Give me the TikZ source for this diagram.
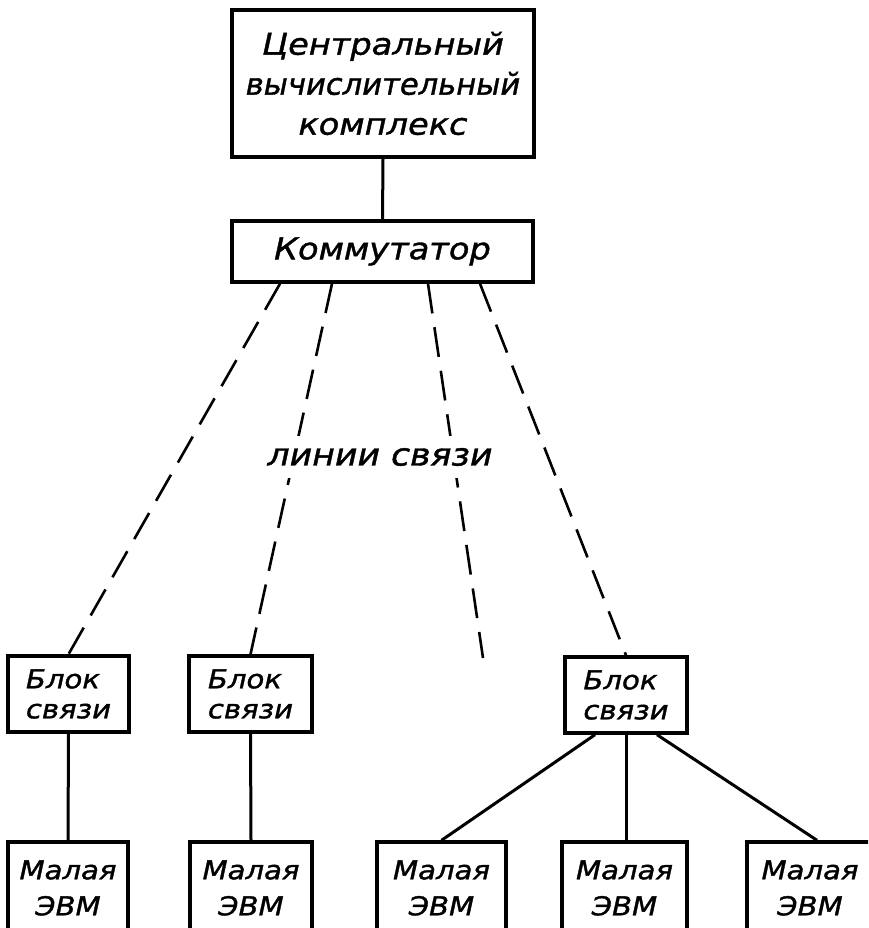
\documentclass[tikz,border=0pt]{standalone}
\usepackage{fontspec}
\newfontfamily\hand{DejaVu Sans}[FakeStretch=1.12, FakeBold=1.3]
\usetikzlibrary{calc}
\begin{document}
\begin{tikzpicture}[x=1pt,y=-1pt,
  box/.style={draw, line width=3.4pt, inner sep=0pt},
  bigtxt/.style={font=\hand\itshape\fontsize{30}{40}\selectfont},
  smalltxt/.style={font=\hand\itshape\fontsize{26}{30}\selectfont},
  evmtxt/.style={font=\hand\itshape\fontsize{26}{36}\selectfont},
  solidline/.style={line width=3pt},
  dashline/.style={line width=2.6pt, dash pattern=on 30pt off 14pt}]
\useasboundingbox (0,0) rectangle (868,928);
\clip (0,0) rectangle (868,928);

% top boxes
\node[box, bigtxt, align=center, minimum width=302pt, minimum height=147pt] (cvk) at (383,83.5)
  {Центральный\\\scalebox{0.91}[1]{вычислительный}\\комплекс};
\node[box, bigtxt, minimum width=301pt, minimum height=61pt] (kom) at (382.5,251.5) {Коммутатор};

% communication blocks
\node[box, smalltxt, align=left, minimum width=121pt, minimum height=76pt] (b1) at (68.5,694) {Блок\\связи};
\node[box, smalltxt, align=left, minimum width=123pt, minimum height=76pt] (b2) at (250.5,694) {Блок\\связи};
\node[box, smalltxt, align=left, minimum width=122pt, minimum height=76pt] (b3) at (626,695) {Блок\\связи};

% small computers
\node[box, evmtxt, align=center, minimum width=120pt, minimum height=92pt] (m1) at (68,888) {Малая\\ЭВМ};
\node[box, evmtxt, align=center, minimum width=122pt, minimum height=92pt] (m2) at (251,888) {Малая\\ЭВМ};
\node[box, evmtxt, align=center, minimum width=129pt, minimum height=92pt] (m3) at (441.5,888) {Малая\\ЭВМ};
\node[box, evmtxt, align=center, minimum width=125pt, minimum height=92pt] (m4) at (624.5,888) {Малая\\ЭВМ};
\node[box, evmtxt, align=center, minimum width=126pt, minimum height=92pt] (m5) at (810,888) {Малая\\ЭВМ};

% solid connectors
\draw[solidline] (cvk.south) -- (kom.north);
\draw[solidline] (b1.south) -- (m1.north);
\draw[solidline] (b2.south) -- (m2.north);
\draw[solidline] ($(b3.south)+(-31,0)$) -- (m3.north);
\draw[solidline] (b3.south) -- (b3.south |- m4.north);
\draw[solidline] ($(b3.south)+(31,0)$) -- ($(m5.north)+(7,0)$);

% dashed communication lines
\coordinate (free) at (483,658);
\draw[dashline] ($(kom.south)+(-102.5,0)$) -- (b1.north);
\draw[dashline] ($(kom.south)+(-50.5,0)$) -- (b2.north);
\draw[dashline] ($(kom.south)+(45.5,0)$) -- (free);
\draw[dashline] ($(kom.south)+(97.5,0)$) -- (b3.north);

% label
\node[fill=white, inner xsep=4pt, inner ysep=12pt, font=\hand\itshape\fontsize{31}{34}\selectfont] (lbl) at (380,457) {линии связи};
\end{tikzpicture}
\end{document}
